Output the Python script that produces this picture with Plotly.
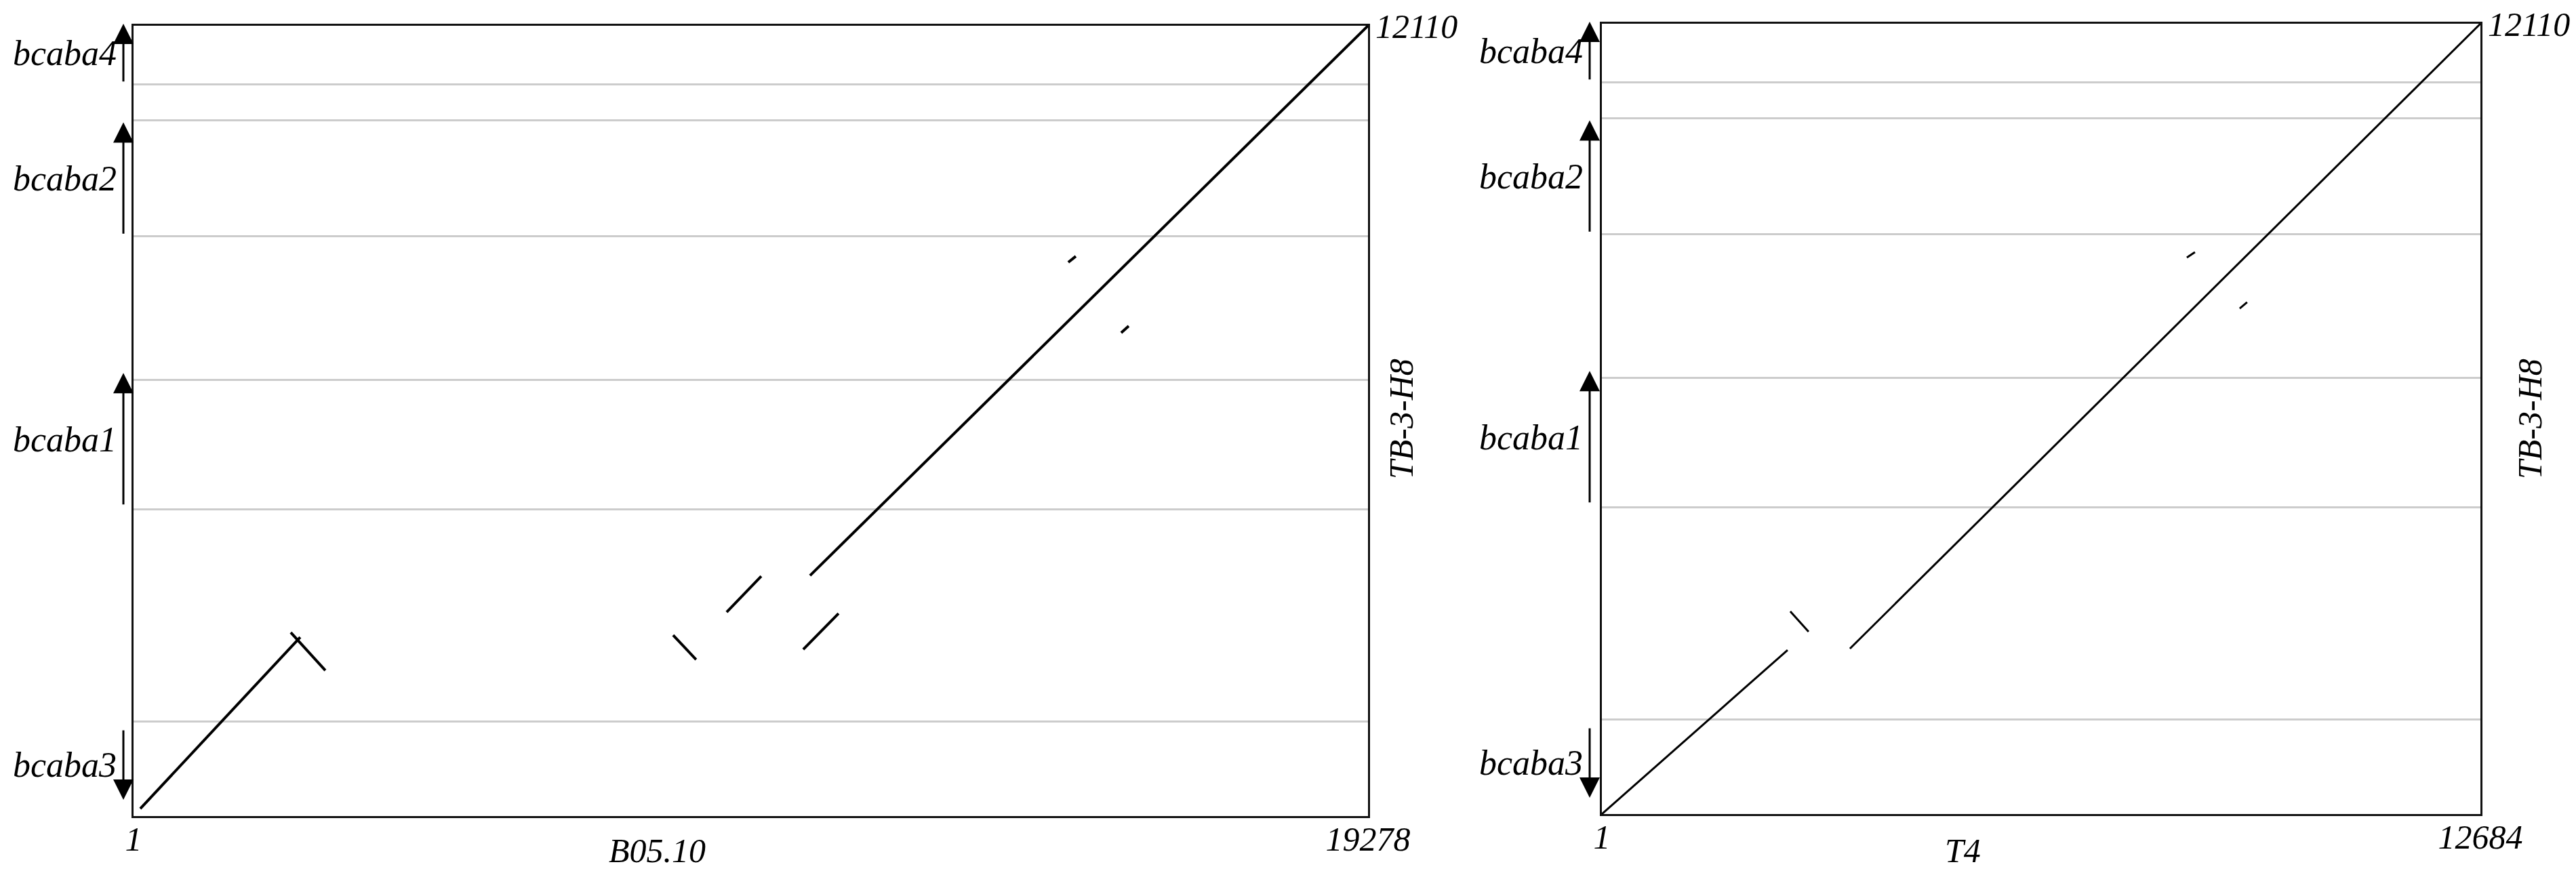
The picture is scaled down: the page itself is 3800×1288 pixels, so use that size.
import plotly.graph_objects as go

# -----------------------------
# Data: dot plots of TB-3-H8 (y) vs B05.10 (left) and T4 (right)
# -----------------------------
LEFT_LEN = 19278
RIGHT_LEN = 12684
TB_LEN = 12110

# gene boundaries along TB-3-H8 (grey lines)
BOUNDS = [1450, 4700, 6680, 8890, 10660, 11210]

# gene arrows along TB-3-H8: tail -> head
GENES = ["bcaba4", "bcaba2", "bcaba1", "bcaba3"]
GENE_TAIL = [11240, 8910, 4760, 1330]
GENE_HEAD = [12140, 10630, 6790, 250]

# matching segments, B05.10 vs TB-3-H8
L_X0 = [106, 2456, 8427, 9263, 10459, 10565, 14598, 15424]
L_Y0 = [114, 2814, 2773, 3126, 2555, 3687, 8485, 7405]
L_X1 = [2604, 2996, 8786, 9803, 11010, 19278, 14715, 15541]
L_Y1 = [2742, 2233, 2399, 3676, 3105, 12110, 8578, 7509]

# matching segments, T4 vs TB-3-H8
R_X0 = [1, 2721, 3582, 8446, 9209]
R_Y0 = [1, 3106, 2535, 8527, 7748]
R_X1 = [2682, 2985, 12684, 8563, 9316]
R_Y1 = [2514, 2794, 12110, 8610, 7842]

# -----------------------------
# Layout helpers
# -----------------------------
W, H = 3800, 1288
OFF = 8  # page body margin
FONT = "Liberation Serif"


def px(x):
    return (x - OFF) / W


def py(y):
    return 1 - (y - OFF) / H


def seg_xy(x0, y0, x1, y1):
    xs, ys = [], []
    for a, b, c, d in zip(x0, y0, x1, y1):
        xs += [a, c, None]
        ys += [b, d, None]
    return xs, ys


fig = go.Figure()

lx, ly = seg_xy(L_X0, L_Y0, L_X1, L_Y1)
fig.add_trace(go.Scatter(x=lx, y=ly, mode="lines", xaxis="x", yaxis="y",
                         line=dict(color="black", width=4), showlegend=False))
rx, ry = seg_xy(R_X0, R_Y0, R_X1, R_Y1)
fig.add_trace(go.Scatter(x=rx, y=ry, mode="lines", xaxis="x2", yaxis="y2",
                         line=dict(color="black", width=3), showlegend=False))

tick_font = dict(family=FONT, size=50, color="black", style="italic")
gene_font = dict(family=FONT, size=52, color="black", style="italic")
xcommon = dict(showline=True, mirror=True, linecolor="#111", linewidth=3,
               showgrid=False, zeroline=False, ticks="", tickfont=tick_font,
               ticklabelstandoff=-12, ticklabeloverflow="allow", automargin=False)
ycommon = dict(showline=True, mirror=True, linecolor="#111", linewidth=3,
               side="right", range=[1, TB_LEN], zeroline=False, ticks="",
               tickvals=BOUNDS + [TB_LEN], ticktext=[""] * len(BOUNDS) + [str(TB_LEN)],
               showgrid=True, gridcolor="#cccccc", gridwidth=3,
               tickfont=tick_font, ticklabelstandoff=-2, ticklabeloverflow="allow",
               automargin=False)

fig.update_layout(
    template="none",
    width=W, height=H,
    margin=dict(l=0, r=0, t=0, b=0, autoexpand=False),
    paper_bgcolor="white", plot_bgcolor="white",
    font=dict(family=FONT, size=50, color="black"),
    xaxis=dict(domain=[px(197), px(2018)], range=[1, LEFT_LEN],
               tickvals=[1, LEFT_LEN], ticktext=["1", str(LEFT_LEN)], anchor="y", **xcommon),
    yaxis=dict(domain=[py(1204), py(38)], anchor="x", **ycommon),
    xaxis2=dict(domain=[px(2363), px(3659)], range=[1, RIGHT_LEN],
                tickvals=[1, RIGHT_LEN], ticktext=["1", str(RIGHT_LEN)], anchor="y2", **xcommon),
    yaxis2=dict(domain=[py(1201), py(35)], anchor="x2", **ycommon),
)

# gene arrows and names, left of each panel
for yref, ax_x in [("y", px(182)), ("y2", px(2345))]:
    for name, tail, head in zip(GENES, GENE_TAIL, GENE_HEAD):
        fig.add_annotation(x=ax_x, xref="paper", y=head, yref=yref,
                           ax=0, axref="pixel", ay=tail, ayref=yref,
                           text="", showarrow=True, arrowhead=2, arrowsize=2,
                           arrowwidth=3, arrowcolor="black")
        fig.add_annotation(x=ax_x, xref="paper", y=(tail + head) / 2, yref=yref,
                           xshift=-8, xanchor="right", yanchor="middle",
                           text=name, showarrow=False, font=gene_font)

# axis titles
fig.add_annotation(x=8183, xref="x", y=py(1255), yref="paper", text="B05.10",
                   xanchor="center", yanchor="middle", showarrow=False, font=tick_font)
fig.add_annotation(x=5216, xref="x2", y=py(1255), yref="paper", text="T4",
                   xanchor="center", yanchor="middle", showarrow=False, font=tick_font)
for xp in [px(2067), px(3732)]:
    fig.add_annotation(x=xp, xref="paper", y=py(618), yref="paper", text="TB-3-H8",
                       textangle=-90, xanchor="center", yanchor="middle",
                       showarrow=False, font=tick_font)

fig.write_html("out.html")
